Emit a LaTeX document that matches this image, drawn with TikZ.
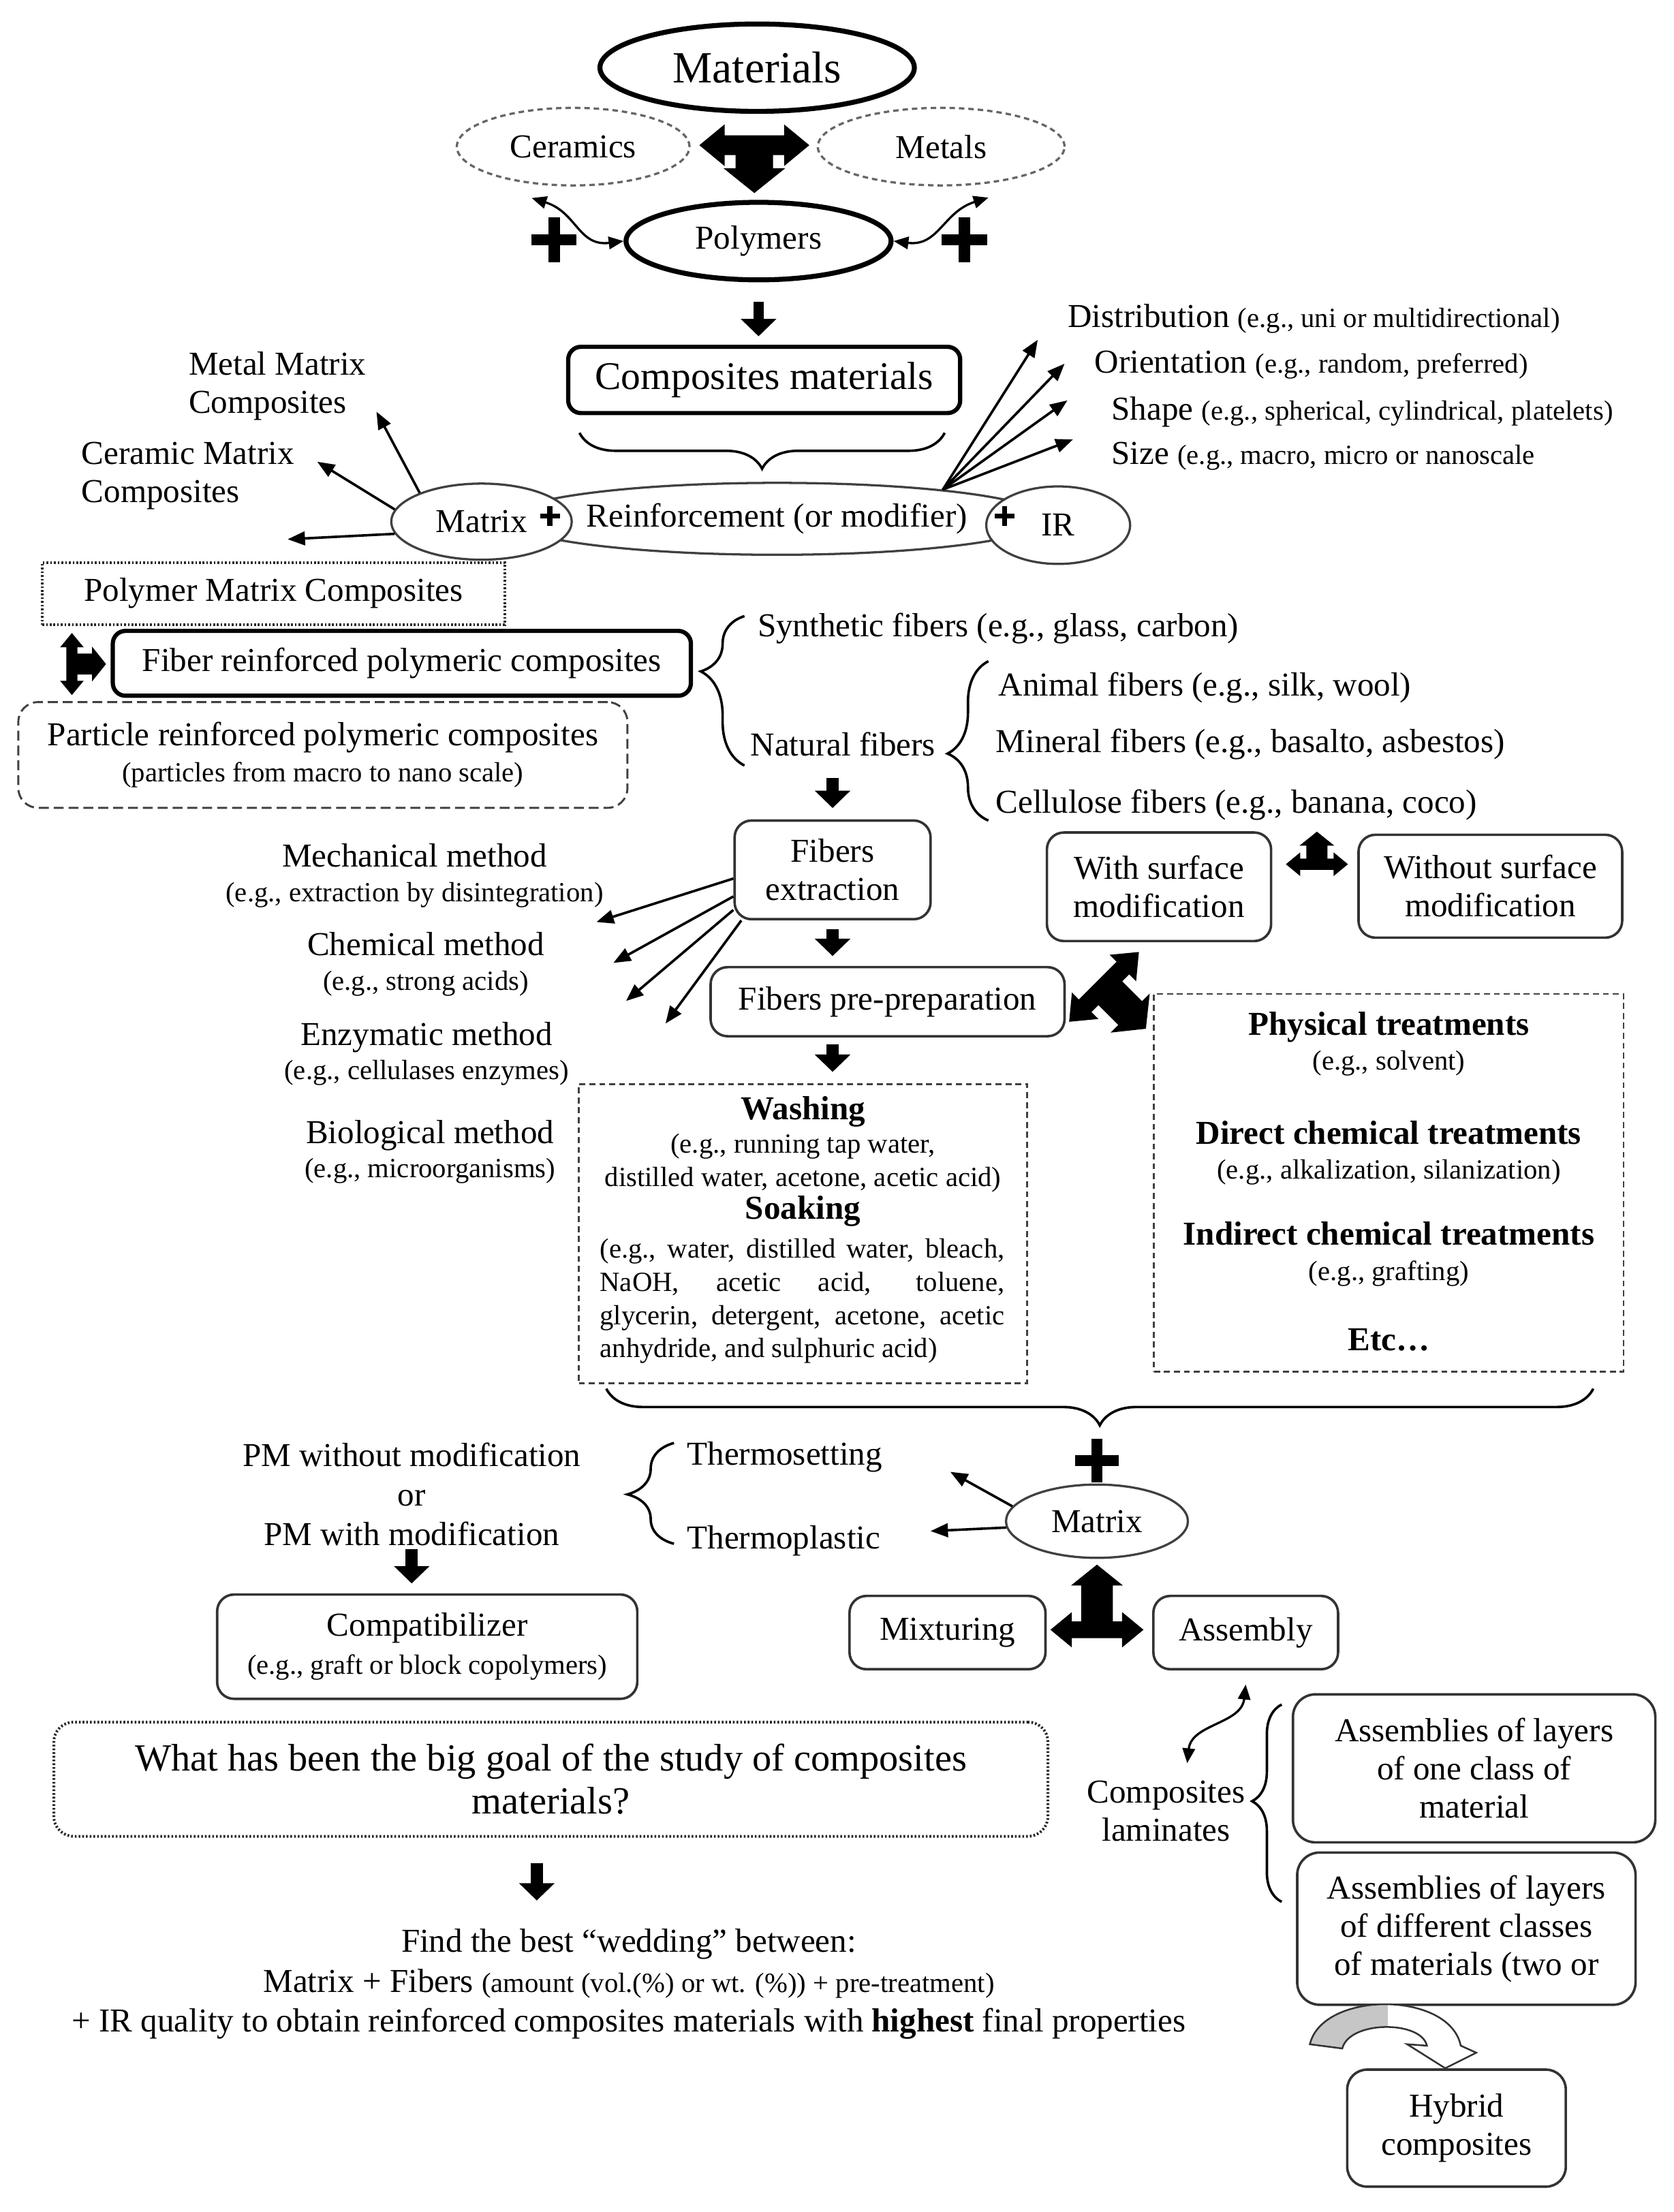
\documentclass[tikz,border=0pt]{standalone}
\usepackage{fontspec}
\setmainfont{Liberation Serif}
\usepackage{tikz}
\usetikzlibrary{positioning,arrows.meta,calc,shapes.geometric,decorations.pathreplacing}

\newlength{\dpx}
\setlength{\dpx}{0.02cm}
\newcommand{\egsize}{\fontsize{11.2}{13.4}\selectfont}
\newcommand{\bigsize}{\fontsize{15.5}{17.5}\selectfont}

\tikzset{
    base/.style={font=\fontsize{13.5}{15.4}\selectfont, align=center, inner sep=0pt},
    txt/.style={base},
    bubble/.style={base, ellipse, draw, line width=2pt},
    dashbubble/.style={base, ellipse, draw=black!60, line width=0.9pt, dash pattern=on 2.2pt off 1.6pt},
    ring/.style={base, ellipse, draw=black!75, line width=0.9pt, fill=white},
    roundbox/.style={base, rectangle, rounded corners=12\dpx, draw=black!80, line width=1pt},
    thickbox/.style={roundbox, rounded corners=9\dpx, draw=black, line width=1.7pt},
    dotbox/.style={base, rectangle, draw=black!85, line width=1.1pt, dash pattern=on 0.7pt off 0.8pt},
    dashbox/.style={base, rectangle, draw=black!75, line width=0.8pt, dash pattern=on 2.4pt off 1.6pt},
    thinarrow/.style={-{Triangle[width=5.5pt,length=7pt]}, line width=1pt},
    dblarrow/.style={{Triangle[width=5pt,length=6pt]}-{Triangle[width=5pt,length=6pt]}, line width=0.9pt},
    blockarrow/.style={-{Triangle[width=14pt,length=7pt]}, line width=5pt},
    curly/.style={decorate, line width=1pt},
    pics/plus/.style={code={
        \fill (-0.5,-0.12) rectangle (0.5,0.12);
        \fill (-0.13,-0.5) rectangle (0.13,0.5);
    }},
    pics/teearrow/.style={code={
        \fill (-1,0) -- (-0.54,-0.38) -- (-0.54,-0.18) -- (0.54,-0.18) -- (0.54,-0.38)
            -- (1,0) -- (0.54,0.38) -- (0.54,0.18) -- (0.34,0.18) -- (0.34,{#1-0.45})
            -- (0.56,{#1-0.45}) -- (0,#1) -- (-0.56,{#1-0.45}) -- (-0.34,{#1-0.45})
            -- (-0.34,0.18) -- (-0.54,0.18) -- (-0.54,0.38) -- cycle;
    }}
}

\begin{document}
\begin{tikzpicture}[x=0.02cm, y=-0.02cm]
  \fill[white] (0,0) rectangle (1187,1569);
  \useasboundingbox (0,0) rectangle (1187,1569);

  % materials and its three classes
  \node[bubble, minimum width=223\dpx, minimum height=62\dpx, font=\fontsize{18}{20}\selectfont] (mat) at (537,48) {Materials};
  \node[dashbubble, minimum width=165\dpx, minimum height=55\dpx] (cer) at (406.5,104) {Ceramics};
  \node[dashbubble, minimum width=175\dpx, minimum height=55\dpx] (met) at (667.5,104) {Metals};
  \node[bubble, minimum width=188\dpx, minimum height=55\dpx] (poly) at (538,171) {Polymers};
  \pic[scale=39] at (535,103) {teearrow=0.87};
  \pic[scale=32] at (393,170) {plus};
  \pic[scale=32] at (684,170) {plus};
  \draw[dblarrow] ([yshift=-10\dpx]cer.222) .. controls +(32,10) and +(-32,4) .. (poly.west);
  \draw[dblarrow] ([yshift=-10\dpx]met.322) .. controls +(-32,10) and +(32,4) .. (poly.east);

  % composites materials
  \node[thickbox, minimum width=278\dpx, minimum height=47\dpx, font=\fontsize{15.8}{18}\selectfont] (comp) at (542,269.5) {Composites materials};
  \draw[blockarrow, line width=4pt, shorten <=14\dpx, shorten >=6\dpx] (poly.south) -- (poly.south |- comp.north);
  \draw[curly, decoration={brace, amplitude=25.5\dpx}] (670,307) -- (411,307);

  % matrix + reinforcement + IR
  \node[ring, minimum width=336\dpx, minimum height=51\dpx] (rein) at (551,368) {Reinforcement (or modifier)};
  \node[ring, minimum width=128\dpx, minimum height=54\dpx] (mtx) at (341.5,370) {Matrix};
  \node[ring, minimum width=102\dpx, minimum height=55\dpx] (ir) at (750.5,372.5) {IR};
  \pic[scale=14] at (390,366) {plus};
  \pic[scale=14] at (712.5,366) {plus};

  \node[txt, align=left, anchor=west] (mmc) at (133.5,274) {Metal Matrix\\Composites};
  \node[txt, align=left, anchor=west] (cmc) at (57.5,337.7) {Ceramic Matrix\\Composites};
  \coordinate (mmcEnd) at (267,292);
  \coordinate (cmcEnd) at (225,327.5);
  \coordinate (pmcEnd) at (204,382.5);
  \draw[thinarrow] (mtx.155) -- (mmcEnd);
  \draw[thinarrow] (mtx.172) -- (cmcEnd);
  \draw[thinarrow] (mtx.188) -- (pmcEnd);

  \node[txt, anchor=west] (distr) at (757,226) {Distribution {\egsize (e.g., uni or multidirectional)}};
  \node[txt, anchor=west] (orient) at (776,259) {Orientation {\egsize (e.g., random, preferred)}};
  \node[txt, anchor=west] (shp) at (788,292) {Shape {\egsize (e.g., spherical, cylindrical, platelets)}};
  \node[txt, anchor=west] (sz) at (788,323.7) {Size {\egsize (e.g., macro, micro or nanoscale}};
  \coordinate (rfan) at (rein.10.5);
  \draw[thinarrow] (rfan) -- ([xshift=-21\dpx,yshift=-15\dpx]distr.west);
  \draw[thinarrow] (rfan) -- ([xshift=-21\dpx,yshift=1\dpx]orient.west);
  \draw[thinarrow] (rfan) -- ([xshift=-31\dpx,yshift=8\dpx]shp.west);
  \draw[thinarrow] (rfan) -- ([xshift=-27\dpx,yshift=12\dpx]sz.west);

  % polymer matrix composites
  \node[dotbox, minimum width=328\dpx, minimum height=44\dpx] (pmc) at (194,421) {Polymer Matrix Composites};
  \node[thickbox, minimum width=410\dpx, minimum height=46\dpx] (frc) at (285,470.5) {Fiber reinforced polymeric composites};
  \node[dashbox, rounded corners=14\dpx, dash pattern=on 4pt off 2pt, minimum width=432\dpx, minimum height=75\dpx] (prc) at (229,535.5)
    {Particle reinforced polymeric composites\\[-1pt]{\egsize (particles from macro to nano scale)}};
  \pic[rotate=90, scale=22] at (51,471) {teearrow=1.1};

  % fibers
  \draw[curly, decoration={brace, amplitude=31\dpx, aspect=0.63}] (528,543) -- (528,437);
  \node[txt, anchor=west] (syn) at (537,446) {Synthetic fibers (e.g., glass, carbon)};
  \node[txt, anchor=west] (nat) at (532,528) {Natural fibers};
  \draw[curly, decoration={brace, amplitude=29\dpx, aspect=0.42}] (701,582) -- (701,469);
  \node[txt, anchor=west] (anim) at (708,488) {Animal fibers (e.g., silk, wool)};
  \node[txt, anchor=west] (mine) at (706,528) {Mineral fibers (e.g., basalto, asbestos)};
  \node[txt, anchor=west] (cell) at (706,571) {Cellulose fibers (e.g., banana, coco)};

  % fibers extraction and methods
  \node[roundbox, minimum width=139\dpx, minimum height=70\dpx] (fext) at (590.5,617) {Fibers\\extraction};
  \draw[blockarrow, shorten <=15\dpx, shorten >=8\dpx] (fext.north |- nat.south) -- (fext.north);
  \node[txt] (mech) at (294,621) {Mechanical method\\[-1.5pt]{\egsize (e.g., extraction by disintegration)}};
  \node[txt] (chem) at (302,684) {Chemical method\\[-1.5pt]{\egsize (e.g., strong acids)}};
  \node[txt] (enzy) at (302.5,747.5) {Enzymatic method\\[-1.5pt]{\egsize (e.g., cellulases enzymes)}};
  \node[txt] (biol) at (305,817) {Biological method\\[-1.5pt]{\egsize (e.g., microorganisms)}};
  \coordinate (mechEnd) at (423,654);
  \coordinate (chemEnd) at (435,683);
  \coordinate (enzyEnd) at (444,710);
  \coordinate (biolEnd) at (472,726);
  \draw[thinarrow] (fext.185) -- (mechEnd);
  \draw[thinarrow] (fext.195) -- (chemEnd);
  \draw[thinarrow] (fext.202) -- (enzyEnd);
  \draw[thinarrow] (fext.209) -- (biolEnd);

  % pre-preparation
  \node[roundbox, minimum width=251\dpx, minimum height=49\dpx] (fprep) at (629.5,710.5) {Fibers pre-preparation};
  \draw[blockarrow, shorten <=6\dpx, shorten >=7\dpx] (fext.south) -- (fext.south |- fprep.north);
  \node[dashbox, minimum width=318\dpx, minimum height=212\dpx] (wash) at (569.5,875) {};
  \draw[blockarrow, shorten <=5\dpx, shorten >=8\dpx] (fext.south |- fprep.south) -- (fext.south |- wash.north);
  \node[txt, font=\egsize] (washhead) at (569.5,824)
    {{\fontsize{13.5}{13.4}\selectfont\bfseries Washing}\\
     (e.g., running tap water,\\
     distilled water, acetone, acetic acid)\\
     {\fontsize{13.5}{13.4}\selectfont\bfseries Soaking}};
  \node[txt, font=\egsize, text width=287\dpx, align=justify] (soak) at (569,923)
    {\noindent(e.g., water, distilled water, bleach,\linebreak NaOH, acetic acid, toluene,\linebreak glycerin, detergent, acetone, acetic\linebreak anhydride, and sulphuric acid)};

  % surface modification
  \node[roundbox, minimum width=159\dpx, minimum height=77\dpx] (withmod) at (822,629) {With surface\\modification};
  \node[roundbox, minimum width=187\dpx, minimum height=73\dpx] (nomod) at (1057,628.6) {Without surface\\modification};
  \pic[rotate=180, scale=22] at (934,613) {teearrow=1.05};
  \pic[rotate=45, scale=35] at (783,700) {teearrow=1.2};
  \node[dashbox, minimum width=333\dpx, minimum height=268\dpx] (treat) at (985,839) {};
  \node[txt] (treat1) at (985,740.5) {\textbf{Physical treatments}\\[-1.2pt]{\egsize (e.g., solvent)}};
  \node[txt] (treat2) at (985,817.7) {\textbf{Direct chemical treatments}\\[-1.2pt]{\egsize (e.g., alkalization, silanization)}};
  \node[txt] (treat3) at (985,889.6) {\textbf{Indirect chemical treatments}\\[-1.2pt]{\egsize (e.g., grafting)}};
  \node[txt] (treat4) at (985,950.6) {\textbf{Etc…}};

  % matrix of the composite
  \draw[curly, decoration={brace, amplitude=26\dpx}] (1130,985) -- (430,985);
  \pic[scale=31] at (778,1036) {plus};
  \node[ring, minimum width=129\dpx, minimum height=52\dpx] (mtx2) at (778,1079) {Matrix};
  \node[txt, anchor=west] (tset) at (487,1033.5) {Thermosetting};
  \node[txt, anchor=west] (tplas) at (487,1093) {Thermoplastic};
  \draw[curly, decoration={brace, amplitude=33\dpx, aspect=0.49}] (478,1095) -- (478,1023.5);
  \coordinate (tsetEnd) at (674,1044);
  \coordinate (tplasEnd) at (660,1086);
  \draw[thinarrow] (mtx2.170) -- (tsetEnd);
  \draw[thinarrow] (mtx2.184) -- (tplasEnd);

  \node[txt, font=\fontsize{13.5}{16}\selectfont] (pm) at (292,1060) {PM without modification\\or\\PM with modification};
  \node[roundbox, minimum width=298\dpx, minimum height=74\dpx] (compat) at (303,1168) {Compatibilizer\\{\egsize (e.g., graft or block copolymers)}};
  \draw[blockarrow, shorten <=2\dpx, shorten >=7\dpx] (pm.south) -- (pm.south |- compat.north);

  \node[roundbox, minimum width=139\dpx, minimum height=52\dpx] (mix) at (672,1158) {Mixturing};
  \node[roundbox, minimum width=131\dpx, minimum height=52\dpx] (asm) at (883.5,1158) {Assembly};
  \pic[rotate=180, scale=33] at (778,1156) {teearrow=1.4};

  % laminates
  \node[txt] (lam) at (827,1284.5) {Composites\\laminates};
  \draw[dblarrow] ([yshift=-10\dpx]asm.south) .. controls +(-3,28) and +(3,-28) .. ([xshift=15\dpx,yshift=12\dpx]lam.north);
  \draw[curly, decoration={brace, amplitude=21\dpx, aspect=0.51}] (909,1349) -- (909,1209);
  \node[roundbox, rounded corners=16\dpx, minimum width=257\dpx, minimum height=105\dpx] (asm1) at (1045.5,1254.3) {Assemblies of layers\\of one class of\\material};
  \node[roundbox, rounded corners=16\dpx, minimum width=240\dpx, minimum height=108\dpx] (asm2) at (1040,1368) {Assemblies of layers\\of different classes\\of materials (two or};
  \node[roundbox, rounded corners=14\dpx, minimum width=155\dpx, minimum height=83\dpx] (hyb) at (1033,1509.5) {Hybrid\\composites};
  % curved arrow down to the hybrids
  \draw[line width=0.7pt, draw=black!80, fill=white,
        path picture={\fill[gray!45] (path picture bounding box.south west) rectangle ($(path picture bounding box.north west)!0.47!(path picture bounding box.north east)$);}]
    (929,1450) .. controls (938,1412) and (1028,1412) .. (1036,1451)
    -- (1047,1456) -- (1025,1467) -- (998,1450) -- (1012,1451)
    .. controls (1008,1433) and (957,1433) .. (952,1453) -- cycle;

  % the big question
  \node[dotbox, rounded corners=14\dpx, minimum width=705\dpx, minimum height=81\dpx, font=\bigsize] (goal) at (390.7,1262)
    {What has been the big goal of the study of composites\\materials?};
  \node[txt, font=\fontsize{13.5}{16.1}\selectfont] (find) at (446,1407.5)
    {Find the best ``wedding'' between:\\
     Matrix + Fibers {\egsize (amount (vol.(\%) or wt. (\%)) + pre-treatment)}\\
     + IR quality to obtain reinforced composites materials with \textbf{highest} final properties};
  \draw[blockarrow, shorten <=18\dpx, shorten >=20\dpx] ([xshift=-10\dpx]goal.south) -- ([xshift=-10\dpx]goal.south |- find.north);
\end{tikzpicture}
\end{document}
